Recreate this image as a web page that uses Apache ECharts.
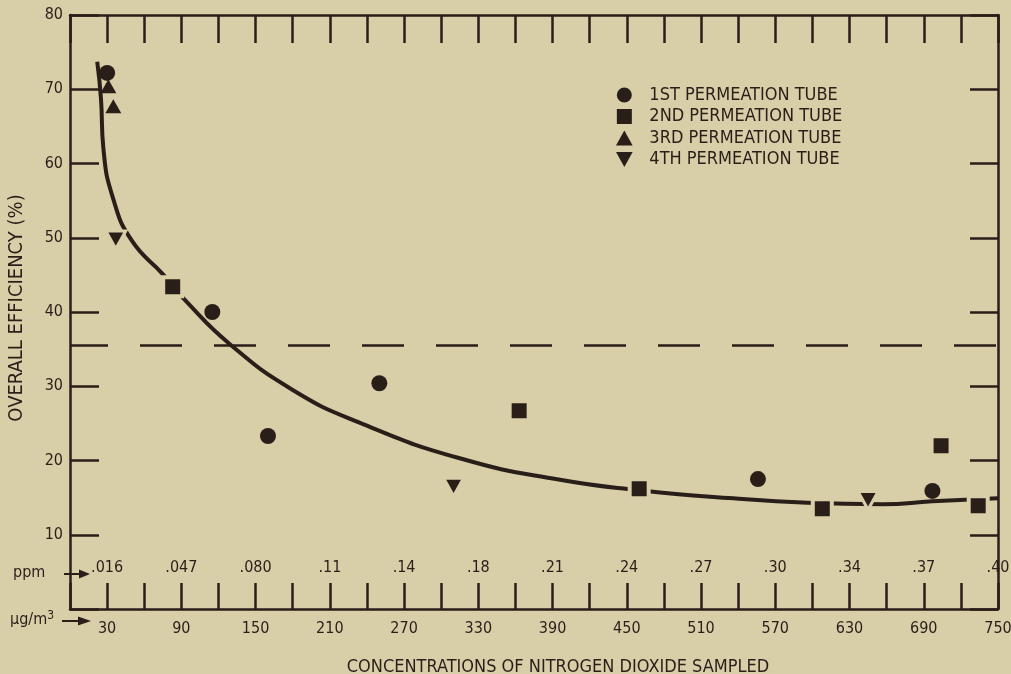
<!DOCTYPE html>
<html>
<head>
<meta charset="utf-8">
<script src="https://cdn.jsdelivr.net/npm/echarts@6/dist/echarts.min.js"></script>
<style>
html, body { margin: 0; padding: 0; background: #d8cfa9; }
#chart { width: 1011px; height: 674px; }
</style>
</head>
<body>
<div id="chart"></div>
<script>
// bottom axis: ug/m3 labels and the ppm value printed above each one
var ugTicks = [30, 90, 150, 210, 270, 330, 390, 450, 510, 570, 630, 690, 750];
var ppmLabels = ['.016', '.047', '.080', '.11', '.14', '.18', '.21', '.24', '.27', '.30', '.34', '.37', '.40'];

// [ug/m3, overall efficiency %]
var tube1 = [[30, 72.2], [115, 40.0], [160, 23.3], [250, 30.4], [556, 17.5], [697, 15.9]];
var tube2 = [[83, 43.4], [363, 26.7], [460, 16.2], [608, 13.5], [704, 22.0], [734, 13.9]];
var tube3 = [[31, 70.4], [35, 67.7]];
var tube4 = [[37, 49.7], [310, 16.4], [645, 14.6]];

// hand drawn fit curve
var fitCurve = [[22, 73.7], [25, 68.8], [27, 62], [35, 55.2], [50, 49.6], [75, 45.1], [93, 41.6],
  [129, 35.7], [180, 29.5], [234, 25.1], [315, 20.3], [396, 17.4], [460, 16.0], [536, 14.9],
  [596, 14.3], [657, 14.1], [697, 14.5], [750, 14.9]];

var limitLine = 35.5;

var ink = '#2a1e19';
var bg = '#d8cfa9';
var FONT = '"Liberation Sans Narrow", "DejaVu Sans Condensed", "Arial Narrow", sans-serif';

var SQUARE = 'path://M0,0L10,0L10,10L0,10Z';
var TRI_UP = 'path://M5,0L10,9L0,9Z';
var TRI_DOWN = 'path://M0,0L10,0L5,9Z';

var chart = echarts.init(document.getElementById('chart'));

var axisLine = { show: true, onZero: false, lineStyle: { color: ink, width: 2.5 } };

chart.setOption({
  animation: false,
  backgroundColor: bg,
  textStyle: { fontFamily: FONT, color: ink },
  grid: { left: 70, right: 13, top: 15, bottom: 65, outerBoundsMode: 'none', containLabel: false },
  legend: {
    orient: 'vertical',
    left: 616,
    top: 86,
    padding: 0,
    itemWidth: 40,
    itemHeight: 15,
    itemGap: 3.5,
    textStyle: { color: ink, fontSize: 18, fontFamily: FONT },
    data: [
      { name: '1ST PERMEATION TUBE' },
      { name: '2ND PERMEATION TUBE', itemStyle: { borderWidth: 0 } },
      { name: '3RD PERMEATION TUBE' },
      { name: '4TH PERMEATION TUBE', itemStyle: { borderWidth: 0 } }
    ]
  },
  xAxis: [
    {
      type: 'value', position: 'bottom', min: 0, max: 750, interval: 30,
      axisLine: axisLine,
      axisTick: { show: true, inside: true, length: 26, lineStyle: { color: ink, width: 2.5 } },
      splitLine: { show: false },
      axisLabel: {
        margin: 12, color: ink, fontSize: 16, fontFamily: FONT,
        formatter: function (v) { return ugTicks.indexOf(v) >= 0 ? String(v) : ''; }
      },
      name: 'CONCENTRATIONS OF NITROGEN DIOXIDE SAMPLED',
      nameLocation: 'middle',
      nameGap: 49,
      nameTextStyle: { color: ink, fontSize: 18, fontFamily: FONT, padding: [0, 0, 0, 48] }
    },
    {
      type: 'value', position: 'bottom', min: 0, max: 750, interval: 30,
      axisLine: { show: false, onZero: false },
      axisTick: { show: false },
      splitLine: { show: false },
      axisLabel: {
        inside: true, margin: 33, color: ink, fontSize: 16, fontFamily: FONT,
        formatter: function (v) {
          var i = ugTicks.indexOf(v);
          return i >= 0 ? ppmLabels[i] : '';
        }
      }
    },
    {
      type: 'value', position: 'top', min: 0, max: 750, interval: 30,
      axisLine: axisLine,
      axisTick: { show: true, inside: true, length: 28, lineStyle: { color: ink, width: 2.5 } },
      splitLine: { show: false },
      axisLabel: { show: false }
    }
  ],
  yAxis: [
    {
      type: 'value', min: 0, max: 80, interval: 10,
      axisLine: axisLine,
      axisTick: { show: true, inside: true, length: 29, lineStyle: { color: ink, width: 2.5 } },
      splitLine: { show: false },
      axisLabel: {
        margin: 7, color: ink, fontSize: 16, fontFamily: FONT,
        formatter: function (v) { return v === 0 ? '' : String(v); }
      },
      name: 'OVERALL EFFICIENCY (%)',
      nameLocation: 'middle',
      nameRotate: 90,
      nameGap: 43,
      nameTextStyle: { color: ink, fontSize: 20, fontFamily: FONT, padding: [0, 0, 0, 8] }
    },
    {
      type: 'value', position: 'right', min: 0, max: 80, interval: 10,
      axisLine: axisLine,
      axisTick: { show: true, inside: true, length: 28, lineStyle: { color: ink, width: 2.5 } },
      splitLine: { show: false },
      axisLabel: { show: false }
    }
  ],
  series: [
    {
      name: 'fit',
      type: 'line',
      data: fitCurve,
      smooth: 0.5,
      symbol: 'none',
      lineStyle: { color: ink, width: 4 },
      z: 2,
      markLine: {
        silent: true,
        symbol: ['none', 'none'],
        label: { show: false },
        lineStyle: { color: ink, width: 2.5, type: [42, 32], dashOffset: 4 },
        data: [{ yAxis: limitLine }]
      }
    },
    {
      name: '1ST PERMEATION TUBE',
      type: 'scatter',
      data: tube1,
      symbol: 'circle',
      symbolSize: 16,
      itemStyle: { color: ink, opacity: 1 },
      z: 3
    },
    {
      name: '2ND PERMEATION TUBE',
      type: 'scatter',
      data: tube2,
      symbol: SQUARE,
      symbolSize: 19,
      itemStyle: { color: ink, borderColor: bg, borderWidth: 4, opacity: 1 },
      z: 3
    },
    {
      name: '3RD PERMEATION TUBE',
      type: 'scatter',
      data: tube3,
      symbol: TRI_UP,
      symbolSize: [16, 14],
      itemStyle: { color: ink, opacity: 1 },
      z: 3
    },
    {
      name: '4TH PERMEATION TUBE',
      type: 'scatter',
      data: tube4,
      symbol: TRI_DOWN,
      symbolSize: [20, 18],
      itemStyle: { color: ink, borderColor: bg, borderWidth: 3, opacity: 1 },
      z: 3
    }
  ],
  graphic: [
    { type: 'text', left: 13, top: 565, style: { text: 'ppm', fill: ink, fontSize: 16, fontFamily: FONT } },
    { type: 'line', shape: { x1: 64, y1: 574, x2: 82, y2: 574 }, style: { stroke: ink, lineWidth: 2 } },
    { type: 'polygon', shape: { points: [[79, 569.5], [90, 574], [79, 578.5]] }, style: { fill: ink } },
    {
      type: 'text', left: 10, top: 610,
      style: {
        text: 'μg/m{s|3}', fill: ink, fontSize: 16, fontFamily: FONT,
        rich: { s: { fontSize: 12, fontFamily: FONT, fill: ink, padding: [0, 0, 8, 0] } }
      }
    },
    { type: 'line', shape: { x1: 62, y1: 621, x2: 80, y2: 621 }, style: { stroke: ink, lineWidth: 2 } },
    { type: 'polygon', shape: { points: [[78, 616.5], [91, 621], [78, 625.5]] }, style: { fill: ink } }
  ]
});
</script>
</body>
</html>
